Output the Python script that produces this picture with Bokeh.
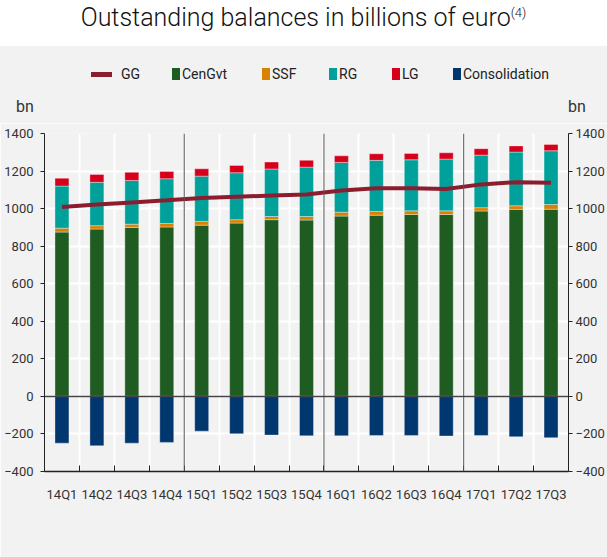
from bokeh.plotting import figure
from bokeh.models import (ColumnDataSource, FixedTicker, LinearAxis, Span, Div, Range1d)
from bokeh.layouts import column
from bokeh.embed import file_html
from bokeh.resources import INLINE

categories = ["14Q1", "14Q2", "14Q3", "14Q4", "15Q1", "15Q2", "15Q3", "15Q4",
              "16Q1", "16Q2", "16Q3", "16Q4", "17Q1", "17Q2", "17Q3"]
cen_gvt = [875, 891, 900, 902, 912, 923, 941, 939, 960, 965, 969, 969, 987, 996, 997]
ssf = [21, 18, 17, 19, 20, 18, 17, 19, 21, 20, 19, 19, 18, 19, 25]
rg = [224, 231, 233, 238, 241, 250, 253, 263, 265, 272, 272, 276, 280, 286, 286]
lg = [42, 42, 43, 39, 39, 39, 37, 36, 35, 35, 34, 33, 34, 33, 34]
consolidation = [-249, -263, -249, -245, -185, -199, -206, -210, -210, -208, -208, -211, -208, -215, -220]
gg = [1008, 1022, 1033, 1044, 1056, 1063, 1070, 1075, 1097, 1108, 1109, 1104, 1129, 1141, 1138]
y_ticks = [-400, -200, 0, 200, 400, 600, 800, 1000, 1200, 1400]
series_names = ["CenGvt", "SSF", "RG", "LG"]
legend_names = ["GG", "CenGvt", "SSF", "RG", "LG", "Consolidation"]
unit_label = "bn"
title_text = "Outstanding balances in billions of euro"
title_note = "(4)"

FONT = "Roboto"
TXT = "#333333"
BG = "#f2f2f2"
W = 607
colors = {"CenGvt": "#1f5c22", "SSF": "#d98100", "RG": "#00a19b", "LG": "#d7001c",
          "Consolidation": "#00376f", "GG": "#8c1d2f"}

n = len(categories)
xc = [i + 0.5 for i in range(n)]
bounds = list(range(n + 1))
year_breaks = [i for i in range(1, n) if categories[i][:2] != categories[i - 1][:2]]

source = ColumnDataSource(dict(x=xc, CenGvt=cen_gvt, SSF=ssf, RG=rg, LG=lg,
                               Cons=consolidation, GG=gg))

# ---------------- header (title, legend, unit labels) as HTML ----------------
legend_left = [91, 172, 262, 329, 392, 453]
parts = []
parts.append(
    f'<div style="position:absolute;left:0;top:0;width:{W}px;height:46px;background:white;'
    f'text-align:center;font-family:{FONT},sans-serif;font-weight:300;font-size:25px;'
    f'line-height:36px;color:#111;">{title_text}'
    f'<sup style="font-size:13px;line-height:0;">{title_note}</sup></div>')
parts.append(f'<div style="position:absolute;left:0;top:46px;width:{W}px;height:77px;background:{BG};"></div>')
for name, left in zip(legend_names, legend_left):
    if name == "GG":
        sw = f'<span style="display:inline-block;width:21px;height:5px;background:{colors[name]};margin-right:9px;"></span>'
    else:
        sw = f'<span style="display:inline-block;width:8px;height:12px;background:{colors[name]};margin-right:2px;"></span>'
    parts.append(
        f'<div style="position:absolute;left:{left}px;top:66px;height:16px;display:flex;'
        f'align-items:center;white-space:nowrap;font-family:{FONT},sans-serif;font-size:14px;'
        f'color:#222;">{sw}<span>{name}</span></div>')
for left in (16, 568):
    parts.append(
        f'<div style="position:absolute;left:{left}px;top:99px;line-height:16px;'
        f'font-family:{FONT},sans-serif;font-size:16px;color:{TXT};">{unit_label}</div>')
header_html = f'<div style="position:relative;width:{W}px;height:123px;">' + "".join(parts) + "</div>"
header = Div(text=header_html, width=W, height=123, margin=0)

# ---------------- main chart ----------------
p = figure(width=W, height=434, x_range=Range1d(0, n), y_range=Range1d(y_ticks[0], y_ticks[-1]),
           output_backend="svg", toolbar_location=None,
           background_fill_color=BG, border_fill_color=BG,
           outline_line_color=None, min_border_left=44, min_border_right=37,
           min_border_top=10, min_border_bottom=86, margin=0)

p.xgrid.ticker = FixedTicker(ticks=bounds[1:-1])
p.xgrid.grid_line_color = "white"
p.xgrid.grid_line_width = 2
p.ygrid.ticker = FixedTicker(ticks=y_ticks)
p.ygrid.grid_line_color = "white"
p.ygrid.grid_line_width = 2

xa = p.xaxis[0]
xa.ticker = FixedTicker(ticks=xc, minor_ticks=bounds)
xa.major_label_overrides = {x: c for x, c in zip(xc, categories)}
xa.major_tick_line_color = None
xa.minor_tick_in = 6
xa.minor_tick_out = 0
xa.minor_tick_line_color = "#222222"
xa.axis_line_color = "#222222"
xa.axis_line_width = 1.5
xa.major_label_standoff = 9
xa.major_label_text_font = FONT
xa.major_label_text_font_size = "13px"
xa.major_label_text_color = TXT

ya = p.yaxis[0]
ra = LinearAxis()
p.add_layout(ra, "right")
for ax, standoff in ((ya, 7), (ra, 3)):
    ax.ticker = FixedTicker(ticks=y_ticks)
    ax.major_tick_in = 0
    ax.major_tick_out = 4
    ax.minor_tick_line_color = None
    ax.axis_line_color = "#222222"
    ax.major_tick_line_color = "#222222"
    ax.major_label_standoff = standoff
    ax.major_label_text_font = FONT
    ax.major_label_text_font_size = "13px"
    ax.major_label_text_color = TXT

stack = p.vbar_stack(series_names, x="x", width=0.4, source=source,
                     fill_color=[colors[k] for k in series_names],
                     line_color="white", line_alpha=0.35, line_width=1)
cons = p.vbar(x="x", top="Cons", bottom=0, width=0.4, source=source,
              fill_color=colors["Consolidation"], line_color="white", line_alpha=0.35)
ggl = p.line(x="x", y="GG", source=source, line_color=colors["GG"], line_width=4)

for b in year_breaks:
    p.add_layout(Span(location=b, dimension="height", line_color="#555555", line_width=1))
p.add_layout(Span(location=0, dimension="width", line_color="#444444", line_width=1.5))

layout = column(header, p, spacing=0)
open("out.html", "w").write(file_html(layout, INLINE))
